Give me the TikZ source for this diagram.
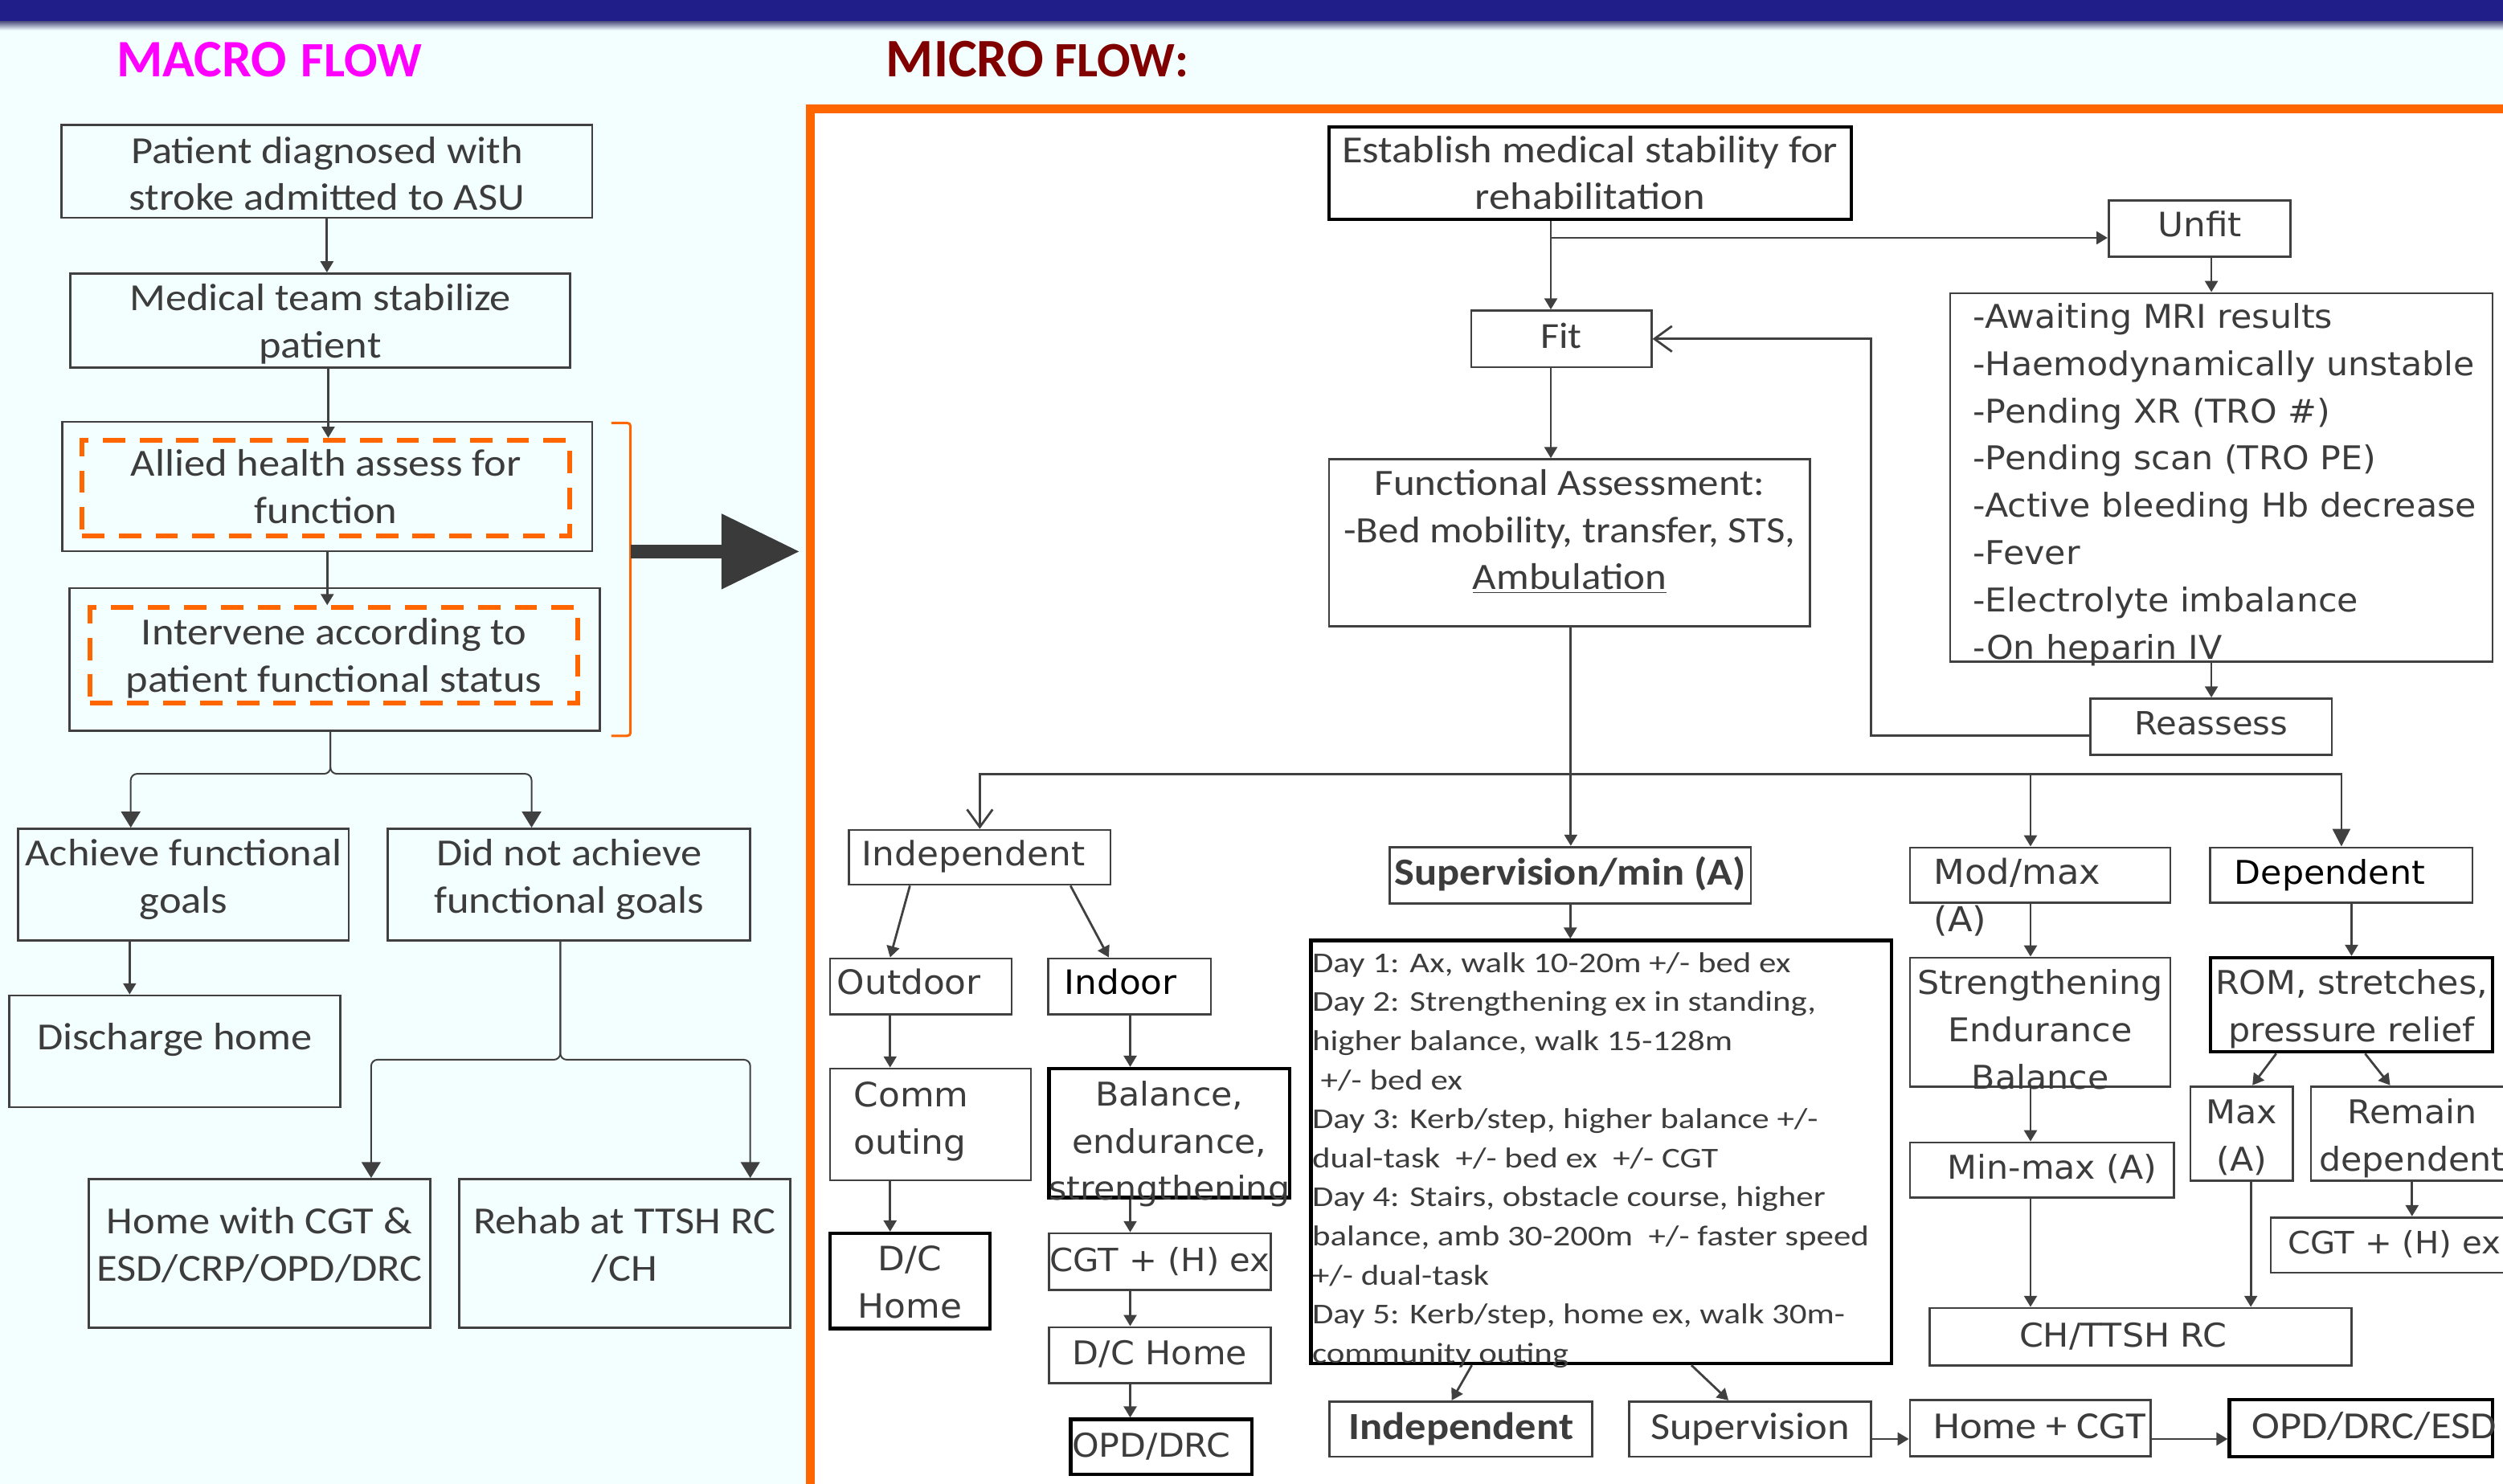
\documentclass[tikz,border=0pt]{standalone}
\usepackage{fontspec}
\setmainfont{Carlito}
\newfontfamily\calfont{Carlito}[FakeStretch=1.1]
\newfontfamily\dayfont{Carlito}[FakeStretch=1.2]
\newfontfamily\widefont{DejaVu Sans}[FakeStretch=1.05]
\usetikzlibrary{arrows.meta}

% testo centrato / allineato a sinistra, senza ingombro
\newcommand{\ctext}[2][0pt]{\makebox[0pt]{\smash{\raisebox{\dimexpr-.32em+#1\relax}{\begin{tabular}{@{}c@{}}#2\end{tabular}}}}}
\newcommand{\ltext}[3][0pt]{\makebox[0pt][l]{\hspace*{#2}\smash{\raisebox{\dimexpr-.32em+#1\relax}{\begin{tabular}{@{}l@{}}#3\end{tabular}}}}}

\tikzset{
  box/.style={draw=lineGray, line width=1.4pt, inner sep=0pt, text=txtGray},
  strong/.style={box, draw=black, line width=2.2pt},
  dashbox/.style={draw=frameOrange, line width=3pt, dash pattern=on 14pt off 9pt, inner sep=0pt},
  wh/.style 2 args={minimum width=#1, minimum height=#2},
  cal/.style={font=\calfont\fontsize{#1}{29.5}\selectfont}, cal/.default=24,
  wide/.style={font=\widefont\fontsize{#1}{29.6}\selectfont}, wide/.default=20.5,
  lnk/.style={draw=lineGray, line width=1.4pt},
  arr/.style={lnk, -{Triangle[length=7pt,width=8pt]}},
  bigarr/.style={lnk, -{Triangle[length=11pt,width=11pt]}},
  barb/.style={lnk, -{Straight Barb[length=11pt,width=16pt]}},
  brarr/.style={draw=lineGray, line width=1pt, rounded corners=4pt, -{Triangle[length=10pt,width=12pt]}},
}

\begin{document}
\begin{tikzpicture}[x=1pt, y=-1pt]

% Colori
\definecolor{bgc}{HTML}{F3FFFF}
\definecolor{barBlue}{HTML}{201F89}
\definecolor{frameOrange}{HTML}{FF6600}
\definecolor{lineGray}{HTML}{404040}
\definecolor{txtGray}{HTML}{3C3C3C}
\definecolor{arrowGray}{HTML}{3A3A3A}
\definecolor{titleMag}{HTML}{FF00FF}
\definecolor{titleRed}{HTML}{800000}

\useasboundingbox (0,0) rectangle (1568,929.7);

% Sfondo
\fill[bgc] (0,0) rectangle (1568,929.7);
\fill[white] (507.5,68.3) rectangle (1568,929.7);
\fill[barBlue] (0,0) rectangle (1568,13.4);
\shade[top color=barBlue!45!gray, bottom color=bgc] (0,13.4) rectangle (1568,19);
\draw[frameOrange, line width=5.7pt] (1575,68.3) -- (507.5,68.3) -- (507.5,935);

% Titoli
\node[anchor=base west, inner sep=0pt, text=titleMag, font=\bfseries] (macrot) at (73,48.3)
  {\fontsize{33}{33}\selectfont MACRO\hspace{9pt}\fontsize{31}{31}\selectfont FLOW};
\node[anchor=base west, inner sep=0pt, text=titleRed, font=\bfseries] (microt) at (555,48.3)
  {\fontsize{34}{34}\selectfont MICRO\hspace{7pt}\fontsize{31}{31}\selectfont FLOW:};

% Macro flow
\node[box, cal, wh={332.4pt}{58.2pt}] (diag) at (204.8,107.3) {\ctext[-2.4pt]{Patient diagnosed with\\stroke admitted to ASU}};
\node[box, cal, wh={312.8pt}{58.8pt}] (stab) at (200.6,200.8) {\ctext[-1.3pt]{Medical team stabilize\\patient}};
\node[box, wh={332pt}{81pt}] (assess) at (205,304.8) {};
\node[dashbox, cal, text=txtGray, wh={305.5pt}{60pt}] (assessin) at (204.2,305.8) {\ctext{Allied health assess for\\function}};
\node[box, wh={332pt}{89.5pt}] (interv) at (209.6,413.2) {};
\node[dashbox, cal, text=txtGray, wh={305.7pt}{59.7pt}] (intervin) at (209.2,410.5) {\ctext[-1pt]{Intervene according to\\patient functional status}};

\node[box, cal, wh={207pt}{69.8pt}] (goal) at (115,554.1) {\ctext[4.1pt]{Achieve functional\\goals}};
\node[box, cal, wh={227pt}{69.8pt}] (nogoal) at (356.5,554.1) {\ctext[4.1pt]{Did not achieve\\functional goals}};
\node[box, cal, wh={207.6pt}{69.9pt}] (dischome) at (109.4,658.65) {\ctext[8.6pt]{Discharge home}};
\node[box, cal, wh={213.8pt}{93.1pt}] (homecgt) at (162.6,785.25) {\ctext[5pt]{Home with CGT \&\\ESD/CRP/OPD/DRC}};
\node[box, cal, wh={207.5pt}{93.1pt}] (rehab) at (391.25,785.25) {\ctext[5pt]{Rehab at TTSH RC\\/CH}};

\draw[arr] (diag.south) -- (diag.south |- stab.north);
\draw[arr] ([xshift=5pt]stab.south) -- ([xshift=5pt]stab.south |- assessin.north);
\draw[arr] (assess.south) -- (assess.south |- intervin.north);

\coordinate (split) at (207,484.8);
\draw[brarr] (interv.south -| split) -- (split) -| ([xshift=-33.1pt]goal.north);
\draw[brarr] (interv.south -| split) -- (split) -| ([xshift=-23.5pt]nogoal.north);
\draw[arr] ([xshift=-33.8pt]goal.south) -- ([xshift=-33.8pt]goal.south |- dischome.north);
\coordinate (split2) at (351,663.9);
\draw[brarr] (nogoal.south -| split2) -- (split2) -| ([xshift=69.9pt]homecgt.north);
\draw[brarr] (nogoal.south -| split2) -- (split2) -| ([xshift=78.75pt]rehab.north);

% Parentesi e freccia verso il micro flow
\draw[frameOrange, line width=1.5pt, rounded corners=2pt] (383,265) -- (395,265) -- (395,461) -- (383,461);
\coordinate (brk) at (395,345.5);
\coordinate (microin) at (501,345.5);
\draw[arrowGray, line width=8.5pt, -{Triangle[length=49pt,width=45pt]}] (brk) -- (microin);

% Micro flow: stabilita'
\node[strong, cal, wh={327pt}{58pt}] (estab) at (996.1,108.5) {\ctext[-0.75pt]{Establish medical stability for\\rehabilitation}};
\node[box, cal=23, wh={112.8pt}{35.4pt}] (fit) at (978.1,212.3) {\ctext[1.3pt]{Fit}};
\node[box, wide=21, wh={114pt}{35.4pt}] (unfit) at (1378,143.1) {\ctext[2.1pt]{Unfit}};
\node[box, cal=23.3, wh={301.4pt}{104.5pt}] (funct) at (983.3,340) {\ctext[7.2pt]{Functional Assessment:\\-Bed mobility, transfer, STS,\\\underline{Ambulation}}};
\node[box, wide, wh={339.7pt}{230.8pt}] (unfitlist) at (1391.55,299.1) {\ltext[-2.8pt]{-155.55pt}{-Awaiting MRI results\\-Haemodynamically unstable\\-Pending XR (TRO \#)\\-Pending scan (TRO PE)\\-Active bleeding Hb decrease\\-Fever\\-Electrolyte imbalance\\-On heparin IV}};
\node[box, wide=20, wh={151.3pt}{35.3pt}] (reass) at (1385.15,455.35) {\ctext[2pt]{Reassess}};

\coordinate (fork) at (971.5,149);
\draw[lnk] (estab.south -| fork) -- (fork);
\draw[arr] (fork) -- (fit.north -| fork);
\draw[arr] (fork) -- (fork -| unfit.west);
\draw[arr] (fit.south -| fork) -- (funct.north -| fork);
\coordinate (colunfit) at (1385.3,0);
\draw[arr] (unfit.south -| colunfit) -- (unfitlist.north -| colunfit);
\draw[arr] (unfitlist.south -| colunfit) -- (reass.north -| colunfit);
\coordinate (loop) at (1172,461);
\draw[barb] (reass.west |- loop) -- (loop) |- (fit.east);

% Micro flow: livelli funzionali
\node[box, wide=21, wh={163.6pt}{34.2pt}] (indep) at (613.8,537.1) {\ltext[2.1pt]{-73.8pt}{Independent}};
\node[box, cal, wh={226.2pt}{35.4pt}] (supmin) at (983.7,548.3) {\ctext[1.3pt]{\bfseries Supervision/min (A)}};
\node[box, wide=21.5, wh={163.1pt}{34.4pt}] (modmax) at (1278.05,548.2) {\ltext[-13.15pt]{-66.65pt}{Mod/max\\(A)}};
\node[box, wide, text=black, wh={164.3pt}{34.4pt}] (dep) at (1466.75,548.2) {\ltext[1.5pt]{-66.95pt}{Dependent}};

\coordinate (hub) at (984,485);
\draw[lnk] (funct.south -| hub) -- (hub);
\draw[barb] (hub) -| (indep.north);
\draw[arr] (hub) -- (hub |- supmin.north);
\coordinate (colmod) at (1272,0);
\draw[arr] (hub) -| (modmax.north -| colmod);
\draw[bigarr] (hub) -| (dep.north);

% Ramo indipendente
\node[box, wide=21, wh={113.7pt}{34.9pt}] (outdoor) at (576.85,617.95) {\ltext[2.25pt]{-52.45pt}{Outdoor}};
\node[box, wide=21, text=black, wh={101.8pt}{34.9pt}] (indoor) at (707.7,617.95) {\ltext[2.25pt]{-41pt}{Indoor}};
\node[box, wide=21, wh={125.8pt}{69.9pt}] (comm) at (582.9,704.45) {\ltext[3.75pt]{-47.9pt}{Comm\\outing}};
\node[strong, wide=21, wh={100pt}{59.7pt}] (dchome) at (570,802.55) {\ctext[-0.75pt]{D/C\\Home}};
\node[strong, wide, wh={150.8pt}{80.8pt}] (balance) at (732.6,709.9) {\ctext[-5.2pt]{Balance,\\endurance,\\strengthening}};
\node[box, wide=20, wh={138.8pt}{35.3pt}] (cgtin) at (726.6,790.35) {\ctext[0.85pt]{CGT + (H) ex}};
\node[box, wide, wh={138.8pt}{35pt}] (dcin) at (726.6,849) {\ctext[1.4pt]{D/C Home}};
\node[strong, wide, wh={113.4pt}{34.4pt}] (opdin) at (727.4,906.4) {\ltext[1pt]{-55.8pt}{OPD/DRC}};

\draw[arr] ([xshift=-43.8pt]indep.south) -- ([xshift=-19.25pt]outdoor.north);
\draw[arr] ([xshift=56.8pt]indep.south) -- ([xshift=-13.1pt]indoor.north);
\coordinate (colout) at (557.6,0);
\draw[arr] (outdoor.south -| colout) -- (comm.north -| colout);
\draw[arr] (comm.south -| colout) -- (dchome.north -| colout);
\coordinate (colin) at (708,0);
\draw[arr] (indoor.south -| colin) -- (balance.north -| colin);
\draw[arr] (balance.south -| colin) -- (cgtin.north -| colin);
\draw[arr] (cgtin.south -| colin) -- (dcin.north -| colin);
\draw[arr] (dcin.south -| colin) -- (opdin.north -| colin);

% Ramo supervisione
\node[strong, font=\dayfont\fontsize{18}{24.46}\selectfont, wh={363.7pt}{265pt}] (days) at (1003.15,721.7) {\ltext[-3.5pt]{-181.15pt}{Day 1: Ax, walk 10-20m +/- bed ex\\Day 2: Strengthening ex in standing,\\higher balance, walk 15-128m\\\hspace*{.3em}+/- bed ex\\Day 3: Kerb/step, higher balance +/-\\dual-task\ \ +/- bed ex\ \ +/- CGT\\Day 4: Stairs, obstacle course, higher\\balance, amb 30-200m\ \ +/- faster speed\\+/- dual-task\\Day 5: Kerb/step, home ex, walk 30m-\\community outing}};
\node[box, cal, wh={164.5pt}{34.6pt}] (indfin) at (915.25,895.3) {\ctext[1.1pt]{\bfseries Independent}};
\node[box, cal, wh={151.4pt}{34.6pt}] (supfin) at (1096.3,895.3) {\ctext[1pt]{Supervision}};
\node[box, cal, wh={150.9pt}{35.5pt}] (homecg) at (1271.95,894.75) {\ltext[0.85pt]{-60.55pt}{Home + CGT}};
\node[strong, cal, wh={164.8pt}{35.5pt}] (opdesd) at (1479,894.75) {\ltext[0.85pt]{-68.4pt}{OPD/DRC/ESD}};

\draw[arr] (supmin.south) -- (supmin.south |- days.north);
\draw[arr] ([xshift=-81.15pt]days.south) -- ([xshift=-5.85pt]indfin.north);
\draw[arr] ([xshift=56.45pt]days.south) -- ([xshift=-13.5pt]supfin.north);
\coordinate (rowend) at (0,901.5);
\draw[arr] (supfin.east |- rowend) -- (homecg.west |- rowend);
\draw[arr] (homecg.east |- rowend) -- (opdesd.west |- rowend);

% Ramo mod/max e dipendente
\node[box, wide, wh={163.1pt}{80.6pt}] (strength) at (1278.05,640.3) {\ctext[-5.1pt]{Strengthening\\Endurance\\Balance}};
\node[box, wide, wh={165.5pt}{34.6pt}] (minmax) at (1279.25,733.1) {\ltext[1.5pt]{-59.25pt}{Min-max (A)}};
\node[box, wide, wh={264.2pt}{35.9pt}] (chrc) at (1340.9,837.45) {\ltext[0.85pt]{-75.9pt}{CH/TTSH RC}};
\node[strong, wide, wh={176.6pt}{59pt}] (rom) at (1473.1,629.5) {\ctext[-1pt]{ROM, stretches,\\pressure relief}};
\node[box, wide, wh={64.2pt}{59.1pt}] (maxa) at (1404.3,710.15) {\ctext[-1.3pt]{Max\\(A)}};
\node[box, wide, wh={126.6pt}{59.1pt}] (remain) at (1511,710.15) {\ctext[-1.3pt]{Remain\\dependent}};
\node[box, wide=19.3, wh={150pt}{34.6pt}] (cgtdep) at (1497.5,780) {\ltext[1.4pt]{-64pt}{CGT + (H) ex}};

\draw[arr] (modmax.south -| colmod) -- (strength.north -| colmod);
\draw[arr] (strength.south -| colmod) -- (minmax.north -| colmod);
\draw[arr] (minmax.south -| colmod) -- (chrc.north -| colmod);
\draw[arr] (rom.north |- dep.south) -- (rom.north);
\draw[arr] ([xshift=-47.2pt]rom.south) -- ([xshift=6.7pt]maxa.north);
\draw[arr] ([xshift=8.5pt]rom.south) -- ([xshift=-13.7pt]remain.north);
\coordinate (colmax) at (1410,0);
\draw[arr] (maxa.south -| colmax) -- (chrc.north -| colmax);
\draw[arr] (remain.south) -- (remain.south |- cgtdep.north);

\end{tikzpicture}
\end{document}
